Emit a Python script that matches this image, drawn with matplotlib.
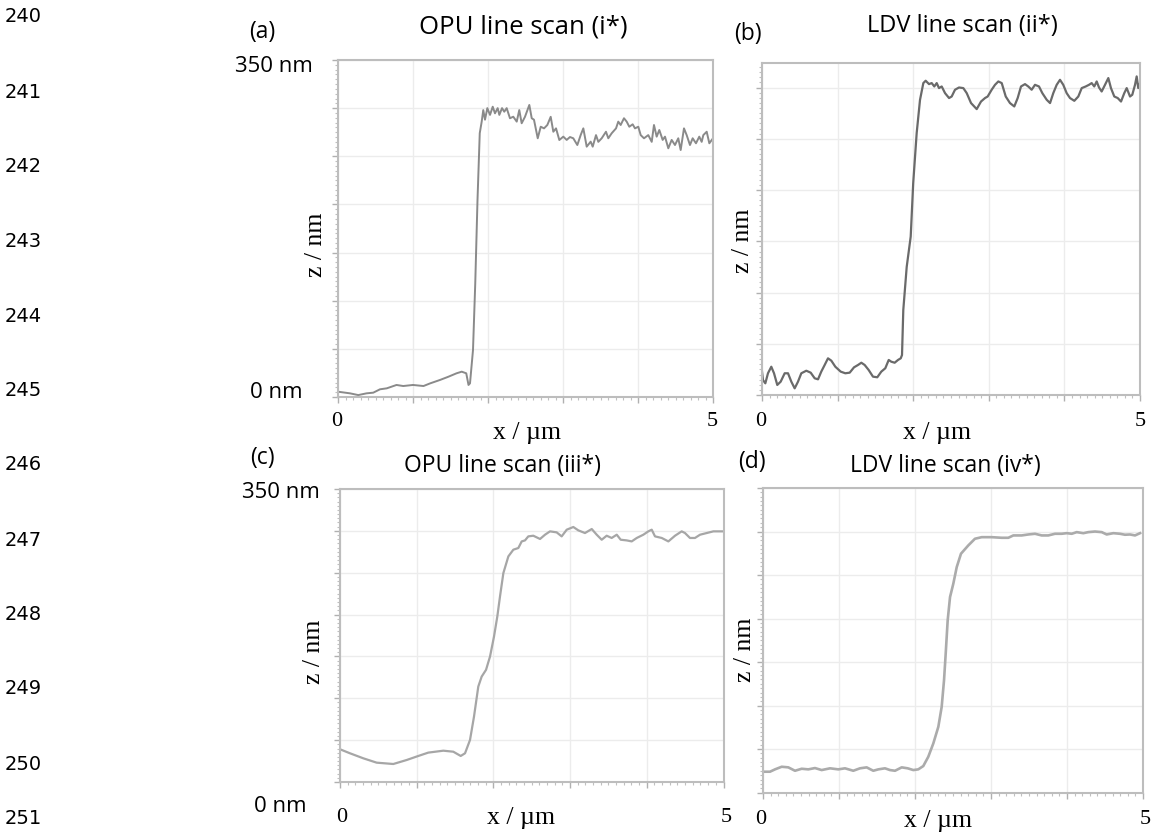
import matplotlib
matplotlib.use("Agg")
import matplotlib.pyplot as plt
from matplotlib.ticker import MultipleLocator

# ---------------- data ----------------
line_numbers = [str(n) for n in range(240, 252)]

panel_labels = ["(a)", "(b)", "(c)", "(d)"]
titles = ["OPU line scan (i*)", "LDV line scan (ii*)",
          "OPU line scan (iii*)", "LDV line scan (iv*)"]
x_label = "x / \u00b5m"
y_label = "z / nm"
y_tick_top = "350 nm"
y_tick_bottom = "0 nm"
x_tick_left = "0"
x_tick_right = "5"

# (a) OPU line scan (i*)
a_x = [0.0, 0.16, 0.27, 0.38, 0.47, 0.56, 0.65, 0.78, 0.87, 1.0,
       1.14, 1.23, 1.36, 1.47, 1.58, 1.65, 1.71, 1.74, 1.76, 1.80,
       1.83, 1.86, 1.89,
       1.916, 1.937, 1.96, 1.991, 2.027, 2.063, 2.093, 2.129, 2.151, 2.187,
       2.217, 2.249, 2.293, 2.337, 2.383, 2.417, 2.449, 2.493, 2.551, 2.583,
       2.613, 2.663, 2.703, 2.747, 2.791, 2.836, 2.871, 2.907, 2.951, 3.004,
       3.049, 3.093, 3.137, 3.191, 3.236, 3.271, 3.316, 3.369, 3.396, 3.44,
       3.471, 3.516, 3.573, 3.604, 3.649, 3.707, 3.737, 3.769, 3.813, 3.849,
       3.884, 3.929, 3.96, 4.004, 4.036, 4.08, 4.137, 4.183, 4.213, 4.249,
       4.284, 4.329, 4.36, 4.404, 4.449, 4.493, 4.537, 4.569, 4.613, 4.649,
       4.693, 4.729, 4.773, 4.817, 4.849, 4.871, 4.916, 4.951, 5.0]
a_z = [5.5, 3.8, 2, 3.8, 4.5, 8, 9, 12.5, 11.4, 12.5,
       11.4, 14.2, 17.7, 21, 24.6, 26.3, 24.6, 12.5, 14.2, 48.8,
       118, 204.6, 274,
       286, 298, 288, 300, 293, 301.5, 294.6, 300, 293, 300,
       296.3, 300, 289.5, 291.1, 286, 298, 284.3, 291, 303.3, 289.5,
       288, 268.7, 280.7, 279, 282.5, 291, 275.5, 279, 266.9, 270.4,
       267, 270, 268.7, 261.7, 272.1, 279, 260, 265.2, 260, 272,
       265, 268.7, 275.5, 268.7, 273.9, 279, 286, 282.5, 289.5, 286,
       280.7, 283.2, 279, 280.7, 272, 268.7, 272, 265, 282.5, 270.4,
       277.3, 267, 270.4, 258.3, 267, 261.7, 268.7, 256.5, 279, 272,
       261.7, 268.7, 263.5, 270.4, 265, 272, 275.5, 263.5, 268.7]

# (b) LDV line scan (ii*)
b_x = [0.0, 0.013, 0.044, 0.079, 0.123, 0.159, 0.202, 0.247, 0.300, 0.344,
       0.388, 0.432, 0.476, 0.520, 0.586, 0.644, 0.697, 0.741, 0.784, 0.829,
       0.873, 0.917, 0.970, 1.041, 1.102, 1.160, 1.217, 1.270, 1.314, 1.358,
       1.411, 1.468, 1.525, 1.578, 1.631, 1.676, 1.710, 1.755, 1.799, 1.835,
       1.852,
       1.869, 1.914, 1.967, 2.0, 2.046, 2.09, 2.134,
       2.165, 2.209, 2.245, 2.279, 2.311, 2.341, 2.377, 2.421, 2.474, 2.509,
       2.553, 2.606, 2.663, 2.708, 2.765, 2.840, 2.897, 2.950, 2.985, 3.038,
       3.082, 3.126, 3.171, 3.224, 3.280, 3.337, 3.382, 3.426, 3.479, 3.522,
       3.567, 3.611, 3.664, 3.708, 3.766, 3.810, 3.853, 3.898, 3.942, 3.985,
       4.030, 4.074, 4.131, 4.184, 4.229, 4.282, 4.325, 4.361, 4.395, 4.427,
       4.458, 4.493, 4.537, 4.581, 4.616, 4.660, 4.705, 4.749, 4.792, 4.824,
       4.868, 4.898, 4.934, 4.956, 4.977, 5.0]
b_z = [22.8, 14.6, 11.4, 21.2, 27.6, 21.2, 9.8, 13, 21.2, 21.2,
       13, 6.5, 13, 21.2, 23.7, 21.8, 16.3, 15.3, 22.8, 29.3,
       35.8, 33.5, 27.6, 22.8, 21.2, 21.8, 27, 29.3, 31.5, 29.3,
       24.4, 17.9, 17.3, 22.8, 26.1, 34.2, 32.5, 31.5, 34.2, 35.8,
       39,
       83, 125, 154.6, 206.7, 255.6, 288, 304.4,
       306.7, 303.4, 304.4, 301.1, 304.4, 299.5, 301.1, 294.6, 289.8, 291.3,
       297.9, 300.1, 299.5, 294.6, 284.9, 279, 286.4, 289.8, 291.3, 297.9,
       302.7, 306, 304.4, 291.3, 284.9, 281.6, 289.8, 301.1, 303.4, 301.1,
       297.9, 302.7, 301.1, 294.6, 288.1, 284.9, 294.6, 302.7, 307.6, 302.7,
       294.6, 289.8, 287.1, 291.3, 299.5, 301.1, 302.7, 304.4, 301.1, 306,
       300.1, 296.2, 302.7, 309.3, 299.5, 291.3, 289.8, 286.4, 294.6, 299.5,
       291.3, 293, 302.7, 310.9, 299.5, 304.4]

# (c) OPU line scan (iii*)
c_x = [0.0, 0.130, 0.304, 0.478, 0.695, 0.870, 1.021, 1.151, 1.347, 1.477,
       1.574, 1.630, 1.695, 1.747, 1.803, 1.847, 1.904, 1.956, 2.008, 2.051,
       2.086, 2.130, 2.195, 2.260, 2.325, 2.369, 2.412, 2.455, 2.520, 2.608,
       2.673, 2.738, 2.825, 2.890, 2.956, 3.042, 3.107, 3.194, 3.282, 3.347,
       3.412, 3.477, 3.542, 3.608, 3.660, 3.738, 3.803, 3.869, 3.955, 4.020,
       4.064, 4.107, 4.195, 4.281, 4.368, 4.455, 4.498, 4.563, 4.628, 4.694,
       4.781, 4.868, 4.99]
c_z = [39.1, 34.3, 28.3, 23.1, 21.5, 26.3, 31.1, 35.1, 37.4, 36.2,
       31.1, 34.3, 50.2, 78.1, 114, 125.9, 134, 149.9, 173.8, 197.7,
       221.6, 249.6, 269.5, 277.5, 279.5, 287.4, 288.6, 293.4, 294.2, 290.3,
       295.4, 299.4, 298.2, 293.4, 301.4, 304.6, 300.6, 297.4, 302.2, 295.4,
       289.4, 294.2, 291.5, 295.4, 289.4, 288.6, 287.4, 291.5, 295.4, 299.4,
       301.4, 293.4, 291.5, 287.4, 294.2, 299.4, 297.4, 291.5, 291.5, 295.4,
       297.4, 299.4, 299.4]

# (d) LDV line scan (iv*)
d_x = [0.0, 0.092, 0.158, 0.246, 0.333, 0.421, 0.509, 0.596, 0.684, 0.772,
       0.882, 0.991, 1.079, 1.188, 1.276, 1.364, 1.451, 1.517, 1.605, 1.671,
       1.737, 1.825, 1.904, 1.978, 2.043, 2.109, 2.175, 2.241, 2.307, 2.351,
       2.382, 2.404, 2.430, 2.461, 2.504, 2.549, 2.605, 2.701, 2.789, 2.878,
       3.009, 3.141, 3.228, 3.294, 3.404, 3.491, 3.579, 3.667, 3.754, 3.842,
       3.930, 3.996, 4.062, 4.128, 4.215, 4.280, 4.368, 4.457, 4.522, 4.610,
       4.697, 4.763, 4.829, 4.895, 4.961]
d_z = [24, 24, 26.7, 29.7, 29, 25.1, 27.4, 26.7, 28.2, 25.9,
       27.9, 26.7, 27.9, 25.1, 27.9, 29, 25.1, 26.7, 27.9, 25.9,
       25.1, 29, 27.9, 25.9, 26.7, 30.5, 41.2, 56.5, 75.6, 98.5,
       129.2, 159.8, 198, 224.7, 240, 259.1, 274.5, 284, 291.7, 293.5,
       293.5, 292.8, 292.8, 295.5, 295.5, 296.6, 297.4, 295.5, 295.5, 297.4,
       297.4, 298.1, 297.4, 299.3, 298.1, 299.3, 300, 299.3, 296.6, 298.1,
       297.4, 296.3, 296.6, 295.5, 298.1]

# ---------------- figure ----------------
W, H = 1152, 835
fig = plt.figure(figsize=(W / 100, H / 100), dpi=100)
fig.patch.set_facecolor("white")

SANS = ["Open Sans", "DejaVu Sans"]
SERIF = ["Liberation Serif", "DejaVu Serif"]


def px_axes(x0, y0, x1, y1):
    return fig.add_axes([x0 / W, 1 - y1 / H, (x1 - x0) / W, (y1 - y0) / H])


def ftext(x, y, s, **kw):
    return fig.text(x / W, 1 - y / H, s, **kw)


# axes boxes in pixels (left, top, right, bottom) and y range
panels = [
    dict(box=(338, 60, 713, 397), ymax=350, x=a_x, z=a_z, color="#8a8a8a", lw=1.4),
    dict(box=(762, 63, 1140, 395), ymax=324, x=b_x, z=b_z, color="#6a6a6a", lw=1.6),
    dict(box=(340, 489, 723.5, 782), ymax=350, x=c_x, z=c_z, color="#a6a6a6", lw=1.6),
    dict(box=(763, 488, 1143, 792.6), ymax=350, x=d_x, z=d_z, color="#ababab", lw=1.9),
]

for p in panels:
    ax = px_axes(*p["box"])
    ax.plot(p["x"], p["z"], color=p["color"], lw=p["lw"], solid_joinstyle="round")
    ax.set_xlim(0, 5)
    ax.set_ylim(0, p["ymax"])
    ax.xaxis.set_major_locator(MultipleLocator(1))
    ax.xaxis.set_minor_locator(MultipleLocator(0.1))
    ax.yaxis.set_major_locator(MultipleLocator(50))
    ax.yaxis.set_minor_locator(MultipleLocator(5))
    ax.grid(True, which="major", color="#ececec", lw=1.0)
    ax.set_axisbelow(True)
    ax.tick_params(which="major", length=4, width=1, color="#b0b0b0",
                   labelbottom=False, labelleft=False)
    ax.tick_params(which="minor", length=2.5, width=0.8, color="#c0c0c0")
    for s in ax.spines.values():
        s.set_color("#bdbdbd")
        s.set_linewidth(1.5)

# ---------------- texts ----------------
# panel letters
for (x, y), s in zip([(262, 32), (748, 34), (262, 458), (752, 462)], panel_labels):
    ftext(x, y, s, fontsize=16.5, family=SANS, ha="center", va="center")
# titles (baseline positions)
title_pos = [(523, 33, 18.5), (962, 32, 17), (503, 472, 16.5), (945, 472, 16.5)]
for (x, y, fs), s in zip(title_pos, titles):
    ftext(x, y, s, fontsize=fs, family=SANS, ha="center", va="baseline")

# y range labels (right-aligned)
for (x, y, s) in [(313, 67, y_tick_top), (303, 392, y_tick_bottom),
                  (320, 493, y_tick_top), (307, 806, y_tick_bottom)]:
    ftext(x, y, s, fontsize=16, family=SANS, ha="right", va="center")

# y axis labels (serif)
for (x, y) in [(316, 245), (743, 241), (314, 652), (745, 650)]:
    ftext(x, y, y_label, fontsize=18.5, family=SERIF, rotation=90,
          ha="center", va="center")

# x axis labels and end values (serif)
for (x, y) in [(527, 433), (937, 433), (521, 818), (938, 821)]:
    ftext(x, y, x_label, fontsize=18.5, family=SERIF, ha="center", va="center")
for (x0, x5, y) in [(337, 712, 421), (761, 1140, 421), (342, 726, 817), (761, 1145, 820)]:
    ftext(x0, y, x_tick_left, fontsize=16, family=SERIF, ha="center", va="center")
    ftext(x5, y, x_tick_right, fontsize=16, family=SERIF, ha="center", va="center")

# line numbers on the left margin
line_y = [17, 92, 166, 241, 316, 391, 465, 540, 614, 689, 764, 818]
for y, s in zip(line_y, line_numbers):
    ftext(5, y, s, fontsize=14, family=["DejaVu Sans"], ha="left", va="center")

fig.savefig("out.png", dpi=100, facecolor="white")
